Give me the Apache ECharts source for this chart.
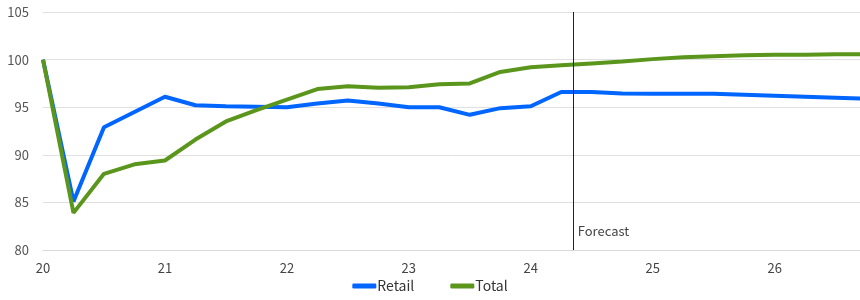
<!DOCTYPE html>
<html>
<head>
<meta charset="utf-8">
<style>
  html, body { margin: 0; padding: 0; background: #fff; }
  #chart { width: 860px; height: 300px; }
</style>
</head>
<body>
<div id="chart"></div>
<script src="https://cdn.jsdelivr.net/npm/echarts@6/dist/echarts.min.js"></script>
<script>
// quarterly points, 20Q1 .. 26Q4 (year + quarter/4)
var quarters = [];
for (var y = 20; y <= 26; y++) {
    for (var q = 0; q < 4; q++) quarters.push(y + q / 4);
}
var retail = [100, 85.1, 92.9, 94.5, 96.1, 95.2, 95.1, 95.05, 95.0, 95.4, 95.7, 95.4,
              95.0, 95.0, 94.2, 94.9, 95.1, 96.6, 96.6, 96.45, 96.4, 96.4, 96.4, 96.3,
              96.2, 96.1, 96.0, 95.9];
var total  = [100, 83.9, 88.0, 89.0, 89.4, 91.6, 93.5, 94.7, 95.8, 96.9, 97.2, 97.05,
              97.1, 97.4, 97.5, 98.7, 99.2, 99.4, 99.6, 99.8, 100.05, 100.25, 100.35, 100.45,
              100.5, 100.5, 100.55, 100.55];
var forecastAt = 24.35;

function pairs(vals) {
    return vals.map(function (v, i) { return [quarters[i], v]; });
}

var font = '"Noto Sans CJK JP", sans-serif';
var chart = echarts.init(document.getElementById('chart'));
var option = {
    animation: false,
    grid: { left: 43, right: 0, top: 12, bottom: 50 },
    legend: {
        bottom: 2,
        left: 'center',
        itemWidth: 24,
        itemHeight: 5,
        itemGap: 36,
        icon: 'roundRect',
        textStyle: { fontFamily: font, fontSize: 14, color: '#333', padding: [0, 0, 0, -4] },
        data: ['Retail', 'Total']
    },
    xAxis: {
        type: 'value',
        min: 20,
        max: 26.7,
        interval: 1,
        splitLine: { show: false },
        axisTick: { show: false },
        axisLine: { lineStyle: { color: '#d9d9d9' } },
        axisLabel: {
            fontFamily: font, fontSize: 13, color: '#444', margin: 12,
            showMaxLabel: false,
            formatter: function (v) { return String(Math.round(v)); }
        }
    },
    yAxis: {
        type: 'value',
        min: 80,
        max: 105,
        interval: 5,
        axisLine: { show: false },
        axisTick: { show: false },
        splitLine: { lineStyle: { color: '#e0e0e0' } },
        axisLabel: { fontFamily: font, fontSize: 13, color: '#555', margin: 14 }
    },
    series: [
        {
            name: 'Retail',
            type: 'line',
            data: pairs(retail),
            showSymbol: false,
            symbol: 'none',
            color: '#0066ff',
            lineStyle: { width: 4, color: '#0066ff' },
            markLine: {
                silent: true,
                symbol: 'none',
                lineStyle: { color: '#222', width: 1, type: 'solid' },
                label: {
                    position: 'start',
                    formatter: 'Forecast',
                    fontFamily: font, fontSize: 13, color: '#444',
                    offset: [30, -30]
                },
                data: [{ xAxis: forecastAt }]
            }
        },
        {
            name: 'Total',
            type: 'line',
            data: pairs(total),
            showSymbol: false,
            symbol: 'none',
            color: '#5b961c',
            lineStyle: { width: 4, color: '#5b961c' }
        }
    ]
};
chart.setOption(option);
</script>
</body>
</html>
